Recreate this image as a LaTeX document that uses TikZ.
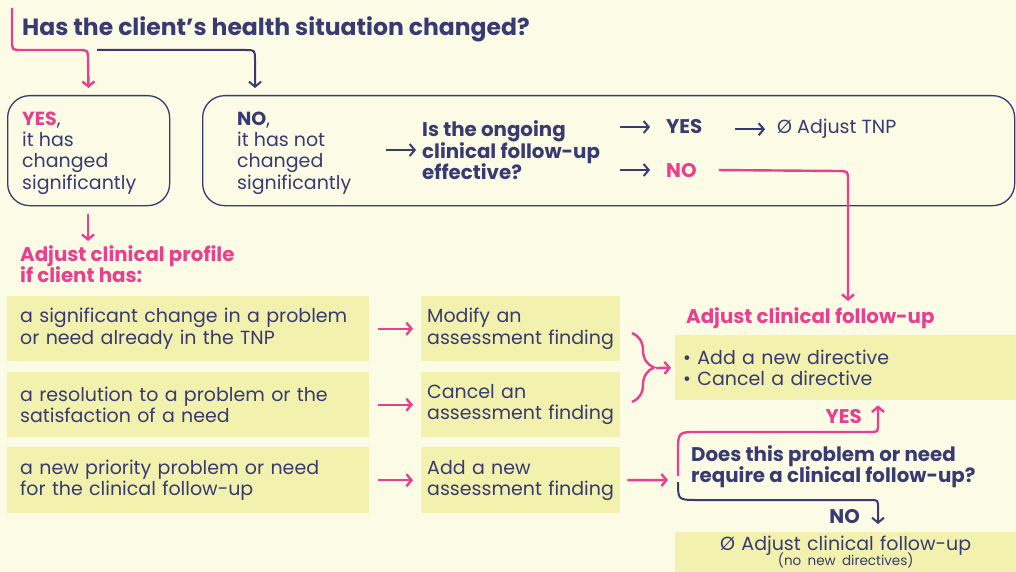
\documentclass[tikz,border=0pt]{standalone}
\usepackage{fontspec}
\setmainfont{Poppins}
\usetikzlibrary{positioning,calc,arrows.meta,decorations.pathreplacing}
\definecolor{navy}{HTML}{383A72}
\definecolor{hotpink}{HTML}{E9408D}
\definecolor{cream}{HTML}{FCFBE6}
\definecolor{lemon}{HTML}{F3F1AE}
\newcommand{\bodyf}{\fontsize{19}{21.3}\selectfont}
\newcommand{\boldf}{\fontsize{19.8}{21.3}\selectfont\bfseries}
\newcommand{\ttlf}{\fontsize{23.5}{26}\selectfont\bfseries}
\newcommand{\topstrut}{\rule{0pt}{15pt}}
\tikzset{
  tip/.style={-{Straight Barb[length=5pt,width=12pt]}},
  pinkln/.style={draw=hotpink, line width=2.4pt},
  pinkarr/.style={pinkln, tip},
  navyarr/.style={draw=navy, line width=2pt, tip},
  rbox/.style={draw=navy, line width=1.3pt, rounded corners=22pt, anchor=north west, inner sep=0pt},
  ybox/.style={fill=lemon, anchor=north west, text=navy, align=left, inner xsep=13pt, inner ysep=0pt, font=\bodyf},
  txt/.style={anchor=north west, text=navy, align=left, inner sep=0pt, font=\bodyf},
}
\begin{document}
\begin{tikzpicture}[x=1pt,y=-1pt]
  \useasboundingbox[fill=cream] (0,0) rectangle (1016,572);

  % question
  \node[txt, anchor=base west, font=\ttlf] (q1) at (22,36) {Has the client’s health situation changed?};

  % answers
  \node[rbox, minimum width=162, minimum height=110] (yesbox) at (7,95) {};
  \node[rbox, minimum width=812, minimum height=110] (nobox) at (202,95) {};
  \node[txt] (yest) at (22,110) {\topstrut\textcolor{hotpink}{\bfseries YES},\\it has\\changed\\significantly};
  \node[txt] (not) at (237,110) {\topstrut{\bfseries NO},\\it has not\\changed\\significantly};
  \node[txt, font=\boldf] (q2) at (422,120) {\topstrut Is the ongoing\\clinical follow-up\\effective?};
  \node[txt, font=\boldf, anchor=base west] (yes1) at (666,134) {YES};
  \node[txt, anchor=base west] (tnp) at (777,134) {Ø Adjust TNP};
  \node[txt, font=\boldf, text=hotpink, anchor=base west] (no1) at (666,177) {NO};

  % left column
  \node[txt, font=\boldf, text=hotpink] (prof) at (20,245) {\topstrut Adjust clinical profile\\if client has:};
  \node[ybox, minimum height=65, text width=336] (c1) at (7,296) {a significant change in a problem\\or need already in the TNP};
  \node[ybox, minimum height=65, text width=336] (c2) at (7,372) {a resolution to a problem or the\\satisfaction of a need};
  \node[ybox, minimum height=66, text width=336] (c3) at (7,447) {a new priority problem or need\\for the clinical follow-up};
  \node[ybox, minimum height=65, text width=187, inner xsep=6pt] (m1) at (421,296) {Modify an\\assessment finding};
  \node[ybox, minimum height=65, text width=187, inner xsep=6pt] (m2) at (421,372) {Cancel an\\assessment finding};
  \node[ybox, minimum height=66, text width=187, inner xsep=6pt] (m3) at (421,447) {Add a new\\assessment finding};

  % right column
  \node[txt, font=\boldf, text=hotpink, anchor=base west] (adj) at (686,323) {Adjust clinical follow-up};
  \node[ybox, minimum height=65, text width=325, inner xsep=8pt] (fu) at (675,335) {• Add a new directive\\• Cancel a directive};
  \node[txt, font=\boldf, text=hotpink, anchor=base east] (yes2) at (862,423) {YES};
  \node[txt, font=\boldf] (q3) at (691,445) {\topstrut Does this problem or need\\require a clinical follow-up?};
  \node[txt, font=\boldf, anchor=base east] (no2) at (860,523) {NO};
  \node[ybox, minimum height=40, text width=325, inner xsep=8pt, align=center] (nofu) at (675,532) {Ø Adjust clinical follow-up\\[-6pt]{\fontsize{13.5}{14}\selectfont (no new directives)}};

  % connectors
  \coordinate (s) at (12,8);
  \coordinate (n0) at (97,50);
  \coordinate (fork) at (678,480);
  \coordinate (forkup) at (678,476);
  \coordinate (forkdn) at (678,484);
  \draw[pinkarr, shorten >=7pt] (s) -- (12,40) .. controls (12,50) .. (22,50) -- (78,50) .. controls (88,50) .. (88,60) -- (yesbox.north);
  \draw[navyarr, shorten >=7pt] (n0) -- (245,50) .. controls (255,50) .. (255,60) -- ($(nobox.north west)+(53,0)$);
  \draw[pinkarr, shorten <=8pt, shorten >=4pt] (yesbox.south -| 88,0) -- (prof.north -| 88,0);
  \draw[navyarr] ($(q2.west)+(-36,0)$) -- ($(q2.west)+(-6,0)$);
  \draw[navyarr] ($(yes1.west)+(-46,0)$) -- ($(yes1.west)+(-16,0)$);
  \draw[navyarr] ($(tnp.west)+(-42,0)$) -- ($(tnp.west)+(-12,0)$);
  \draw[navyarr] ($(no1.west)+(-46,0)$) -- ($(no1.west)+(-16,0)$);
  \draw[pinkarr, shorten >=6pt] ($(no1.east)+(22,0)$) -- (838,171) .. controls (848,171) .. (848,181) -- (848,0 |- adj.north);
  \draw[pinkarr, shorten <=9pt, shorten >=8pt] (c1.east) -- (m1.west);
  \draw[pinkarr, shorten <=9pt, shorten >=8pt] (c2.east) -- (m2.west);
  \draw[pinkarr, shorten <=9pt, shorten >=8pt] (c3.east) -- (m3.west);
  \draw[pinkarr, shorten <=7pt, shorten >=10pt] (m3.east) -- (fork);
  \draw[pinkln, decorate, decoration={brace, amplitude=22pt}] (632,333) -- (632,402);
  \draw[pinkarr, shorten >=4pt] (656,368) -- (fu.west);
  \draw[pinkarr, shorten >=5pt] (forkup) -- (678,452) .. controls (678,432) .. (698,432) -- (870,432) .. controls (878,432) .. (878,424) -- (878,0 |- fu.south);
  \draw[navyarr, shorten >=8pt] (forkdn) -- (678,482) .. controls (678,500) .. (698,500) -- (870,500) .. controls (878,500) .. (878,508) -- (878,0 |- nofu.north);
\end{tikzpicture}
\end{document}
